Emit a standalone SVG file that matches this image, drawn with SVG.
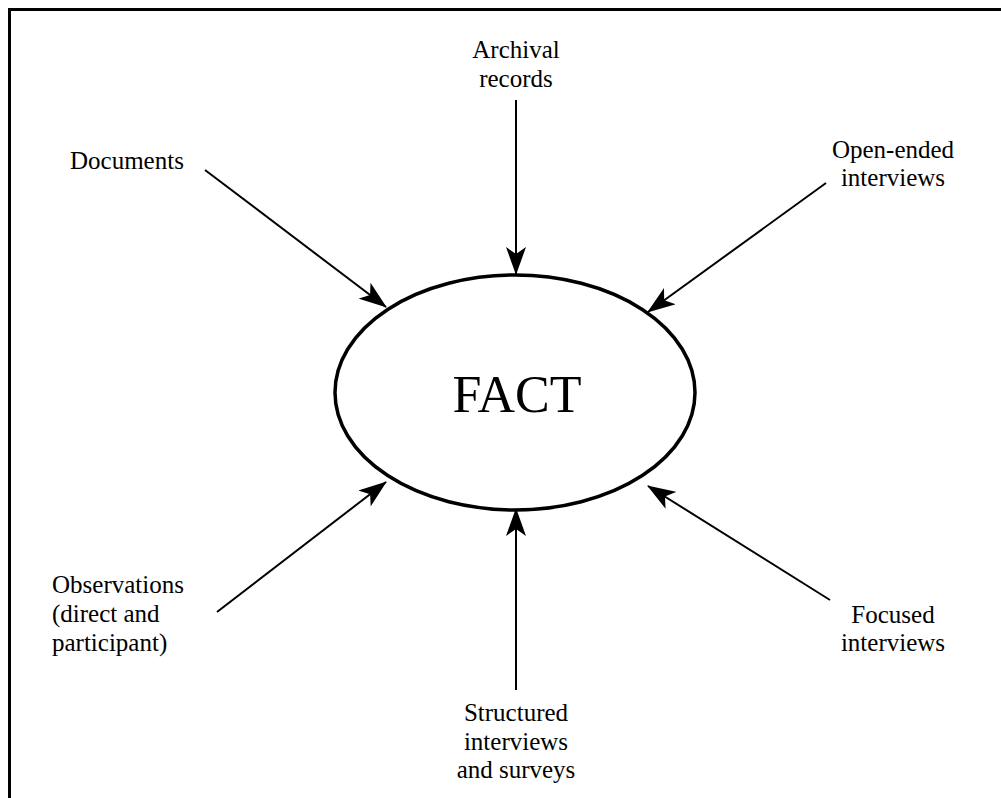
<svg xmlns="http://www.w3.org/2000/svg" width="1001" height="798" viewBox="0 0 1001 798">
<style>
text{font-family:"Liberation Serif","Times New Roman",serif;font-size:25px;fill:#000}
.c{text-anchor:middle}
.ln{stroke:#000;stroke-width:2;fill:none}
</style>
<defs>
<marker id="ah" viewBox="0 0 28 20" refX="27" refY="10" markerWidth="28" markerHeight="20" markerUnits="userSpaceOnUse" orient="auto">
<path d="M0,0 L28,10 L0,20 L7,10 Z" fill="#000"/>
</marker>
</defs>
<rect width="1001" height="798" fill="#fff"/>
<path d="M9.5,800 V9.5 H1003" stroke="#000" stroke-width="3" fill="none"/>
<g id="fact">
<ellipse cx="515" cy="392.5" rx="180" ry="117.5" fill="none" stroke="#000" stroke-width="3.5"/>
<text x="517" y="412" class="c" style="font-size:52px">FACT</text>
</g>
<g id="connectors">
<line class="ln" x1="205" y1="170" x2="386" y2="307" marker-end="url(#ah)"/>
<line class="ln" x1="516" y1="100" x2="516" y2="274" marker-end="url(#ah)"/>
<line class="ln" x1="826" y1="183" x2="648" y2="312" marker-end="url(#ah)"/>
<line class="ln" x1="217" y1="612" x2="386" y2="482" marker-end="url(#ah)"/>
<line class="ln" x1="516" y1="690" x2="516" y2="509" marker-end="url(#ah)"/>
<line class="ln" x1="830" y1="600" x2="648" y2="486" marker-end="url(#ah)"/>
</g>
<g id="documents"><text x="70" y="169">Documents</text></g>
<g id="archival"><text x="516" y="58" class="c">Archival</text><text x="516" y="87" class="c">records</text></g>
<g id="openended"><text x="893" y="158" class="c">Open-ended</text><text x="893" y="186" class="c">interviews</text></g>
<g id="observations"><text x="52" y="593">Observations</text><text x="52" y="622">(direct and</text><text x="52" y="651">participant)</text></g>
<g id="focused"><text x="893" y="623" class="c">Focused</text><text x="893" y="651" class="c">interviews</text></g>
<g id="structured"><text x="516" y="721" class="c">Structured</text><text x="516" y="750" class="c">interviews</text><text x="516" y="778" class="c">and surveys</text></g>
</svg>
